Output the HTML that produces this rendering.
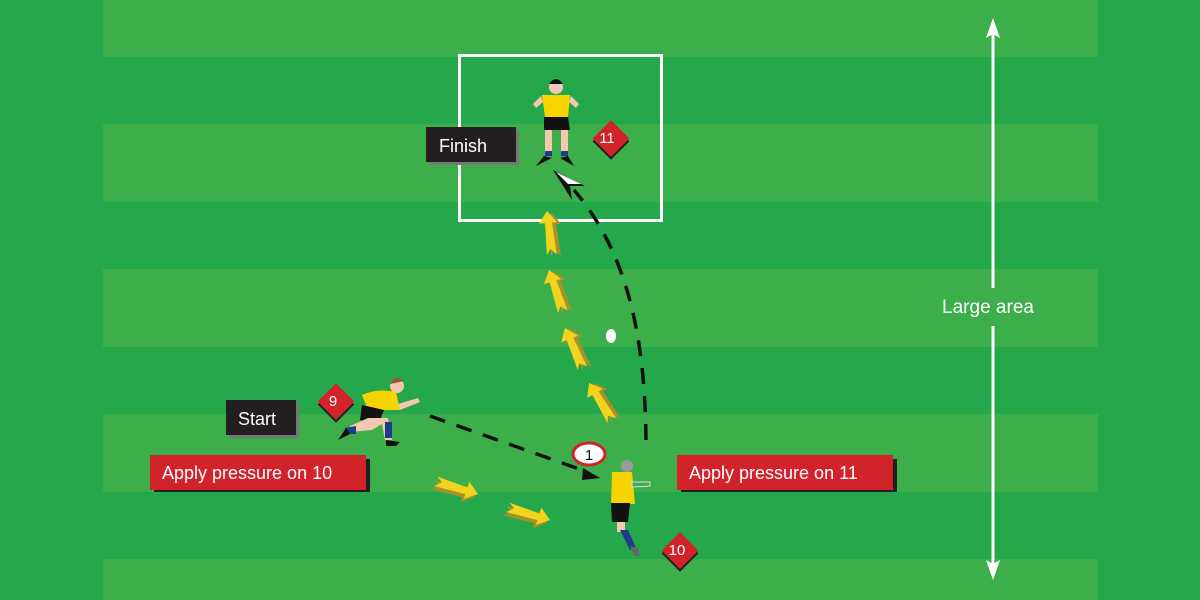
<!DOCTYPE html>
<html><head><meta charset="utf-8"><style>
html,body{margin:0;padding:0;background:#24a84b;}
svg{display:block;font-family:"Liberation Sans",sans-serif;}
</style></head><body>
<svg width="1200" height="600" viewBox="0 0 1200 600" xmlns="http://www.w3.org/2000/svg">
<defs>
<g id="ya">
  <path d="M0,0 L9,12 L4,12 L6,44 L0,38 L-4,44 L-3,12 L-9,12 Z" fill="#f2d41c"/>
</g>
<g id="yas">
  <path d="M0,0 L9,12 L4,12 L6,44 L0,38 L-4,44 L-3,12 L-9,12 Z" fill="#a8902a"/>
</g>
</defs>
<rect width="1200" height="600" fill="#24a84b"/>
<g fill="#3daf4a">
<rect x="103" y="0" width="995" height="57"/>
<rect x="103" y="124" width="995" height="78"/>
<rect x="103" y="269" width="995" height="78"/>
<rect x="103" y="414" width="995" height="78"/>
<rect x="103" y="559" width="995" height="41"/>
</g>
<rect x="459.5" y="55.5" width="202" height="165" fill="none" stroke="#fff" stroke-width="3"/>

<!-- large area arrow -->
<line x1="993" y1="30" x2="993" y2="288" stroke="#fff" stroke-width="3"/>
<line x1="993" y1="326" x2="993" y2="568" stroke="#fff" stroke-width="3"/>
<path d="M993,18 L986,38 L993,34 L1000,38 Z" fill="#fff"/>
<path d="M993,580 L986,560 L993,564 L1000,560 Z" fill="#fff"/>
<text x="988" y="313" fill="#fff" font-size="19" text-anchor="middle">Large area</text>

<!-- dashed paths -->
<path d="M430,416 L582,470" stroke="#111" stroke-width="3.5" stroke-dasharray="16,12" fill="none"/>
<path d="M583,468 L600,478 L582,480 Z" fill="#111"/>
<path d="M646,440 C645,330 625,250 574,190" stroke="#111" stroke-width="3.5" stroke-dasharray="16,12" fill="none"/>
<path d="M553,170 L585,186 L570,186 L572,200 Z" fill="#111"/>
<path d="M556,172 L581,184 L568,184 Z" fill="#fff"/>
<ellipse cx="611" cy="336" rx="5" ry="7" fill="#fff"/>

<!-- yellow arrows -->
<g transform="translate(547,211) rotate(-5)"><use href="#yas" x="4" y="2"/><use href="#ya"/></g>
<g transform="translate(549,270) rotate(-17)"><use href="#yas" x="4" y="2"/><use href="#ya"/></g>
<g transform="translate(565,328) rotate(-22)"><use href="#yas" x="4" y="2"/><use href="#ya"/></g>
<g transform="translate(589,383) rotate(-30)"><use href="#yas" x="4" y="2"/><use href="#ya"/></g>
<g transform="translate(478,494) rotate(108)"><use href="#yas" x="4" y="2"/><use href="#ya"/></g>
<g transform="translate(550,520) rotate(108)"><use href="#yas" x="4" y="2"/><use href="#ya"/></g>

<!-- player 11 -->
<g>
<circle cx="556" cy="87" r="7" fill="#f3c7b0"/><path d="M549,84 Q556,74 563,84 Z" fill="#111"/>
<path d="M542,95 L570,95 L568,117 L545,117 Z" fill="#f7d400"/>
<path d="M541,96 L533,104 L536,108 L543,102 Z M571,96 L579,104 L576,108 L569,102Z" fill="#f3c7b0"/>
<path d="M544,117 L568,117 L570,130 L544,130 Z" fill="#111"/>
<rect x="545" y="130" width="7" height="24" fill="#f3c7b0"/><rect x="561" y="130" width="7" height="24" fill="#f3c7b0"/>
<rect x="545" y="151" width="7" height="5" fill="#1e3a8a"/><rect x="561" y="151" width="7" height="5" fill="#1e3a8a"/>
<path d="M536,166 L544,156 L552,158 Z M574,166 L568,156 L560,158 Z" fill="#111"/>
</g>
<!-- player 9 -->
<g>
<circle cx="397" cy="386" r="7" fill="#f3c7b0"/><path d="M390,384 Q395,374 404,381 Z" fill="#a0522d"/>
<path d="M362,395 Q378,388 396,392 L400,410 L368,410 Z" fill="#f7d400"/>
<path d="M398,404 L418,398 L420,402 L400,410Z" fill="#f3c7b0"/>
<path d="M362,405 L384,410 L378,425 L360,420 Z" fill="#111"/>
<path d="M368,418 L388,418 L392,440 L385,440 L382,424 L372,430 L350,432 L350,426 Z" fill="#f3c7b0"/>
<rect x="385" y="422" width="7" height="16" fill="#1e3a8a"/>
<path d="M345,428 L356,426 L356,434 L345,434Z" fill="#1e3a8a"/>
<path d="M338,440 L346,428 L350,434 Z M386,440 L400,442 L396,446 L386,446Z" fill="#111"/>
</g>
<!-- player 10 -->
<g>
<circle cx="627" cy="466" r="6" fill="#999"/>
<path d="M612,472 L632,472 L635,504 L611,504 Z" fill="#f7d400"/>
<path d="M632,482 L650,482 L650,486 L632,487Z" fill="#3daf4a" stroke="#ddd" stroke-width="1"/>
<path d="M611,503 L630,503 L628,522 L612,522 Z" fill="#111"/>
<rect x="617" y="522" width="8" height="10" fill="#f3c7b0"/>
<path d="M620,530 L628,530 L636,548 L630,550 Z" fill="#1e3a8a"/>
<path d="M630,546 L638,548 L640,556 L634,556Z" fill="#666"/>
</g>

<!-- labels -->
<rect x="429" y="130" width="90" height="35" fill="#777"/>
<rect x="426" y="127" width="90" height="35" fill="#231f20"/>
<text x="439" y="152" fill="#fff" font-size="18">Finish</text>
<rect x="229" y="403" width="70" height="35" fill="#777"/>
<rect x="226" y="400" width="70" height="35" fill="#231f20"/>
<text x="238" y="425" fill="#fff" font-size="18">Start</text>
<rect x="154" y="459" width="216" height="33" fill="#231f20"/>
<rect x="150" y="455" width="216" height="35" fill="#d2232a"/>
<text x="162" y="479" fill="#fff" font-size="18">Apply pressure on 10</text>
<rect x="681" y="459" width="216" height="33" fill="#231f20"/>
<rect x="677" y="455" width="216" height="35" fill="#d2232a"/>
<text x="689" y="479" fill="#fff" font-size="18">Apply pressure on 11</text>

<!-- diamonds -->
<g transform="translate(611,140) rotate(45)"><rect x="-12" y="-12" width="26" height="26" fill="#231f20"/><rect x="-14" y="-14" width="26" height="26" fill="#d2232a"/></g>
<text x="607" y="143" fill="#fff" font-size="15" text-anchor="middle">11</text>
<g transform="translate(336,403) rotate(45)"><rect x="-12" y="-12" width="26" height="26" fill="#231f20"/><rect x="-14" y="-14" width="26" height="26" fill="#d2232a"/></g>
<text x="333" y="406" fill="#fff" font-size="15" text-anchor="middle">9</text>
<g transform="translate(680,552) rotate(45)"><rect x="-12" y="-12" width="26" height="26" fill="#231f20"/><rect x="-14" y="-14" width="26" height="26" fill="#d2232a"/></g>
<text x="677" y="555" fill="#fff" font-size="15" text-anchor="middle">10</text>

<ellipse cx="589" cy="454" rx="16" ry="11" fill="#fff" stroke="#d2232a" stroke-width="3"/>
<text x="589" y="460" fill="#111" font-size="15" text-anchor="middle">1</text>
</svg>
</body></html>
